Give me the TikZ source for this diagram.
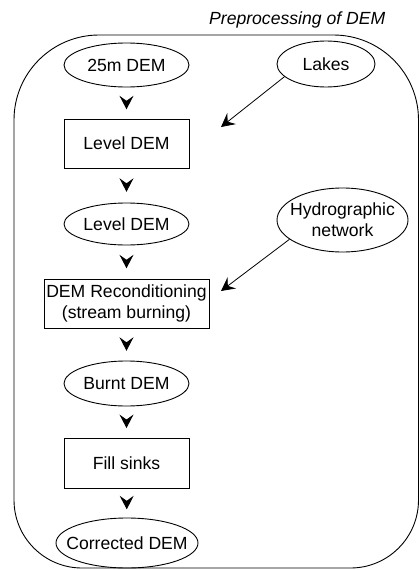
\documentclass[tikz,border=0pt]{standalone}
\usepackage{fontspec}
\setmainfont{Liberation Sans}
\usetikzlibrary{shapes.geometric,arrows.meta}
\begin{document}
\begin{tikzpicture}[x=1pt,y=-1pt,
  font=\fontsize{17.6}{21}\selectfont,
  line width=0.9pt,
  ell/.style={ellipse, draw, inner sep=0pt},
  boxnode/.style={rectangle, draw, inner sep=0pt, align=center},
  tipstyle/.style={-{Stealth[length=13.5pt,width=14pt,inset=5pt]}},
  flow/.style={tipstyle, shorten >=#1pt, shorten <={#1pt+5pt}},
  frame/.style={draw, line width=0.9pt}
]
\useasboundingbox (0,0) rectangle (420,570);

% outer frame
\draw[frame] (14,300) [rounded corners=85pt] |- (216,35) -| (418.5,300)
  [rounded corners=68pt] |- (216,568) -| (14,300);

\node[anchor=base east, font=\fontsize{17.6}{21}\selectfont\itshape] (title) at (389,24) {Preprocessing of DEM};

\node[ell, minimum width=125pt, minimum height=44pt, label=center:25m DEM] (dem25) at (126.5,65) {};
\node[ell, minimum width=98pt, minimum height=46pt, label=center:Lakes] (lakes) at (326,64) {};
\node[boxnode, minimum width=125pt, minimum height=49pt] (lvlbox) at (126.5,143.5) {Level DEM};
\node[ell, minimum width=125pt, minimum height=42pt, label=center:Level DEM] (lvlell) at (126.5,224) {};
\node[ell, minimum width=131pt, minimum height=64pt, label={[align=center]center:Hydrographic\\network}] (hydro) at (342.5,220) {};
\node[boxnode, minimum width=165pt, minimum height=49pt] (recon) at (126.5,303.5) {DEM Reconditioning\\(stream burning)};
\node[ell, minimum width=125pt, minimum height=45pt, label=center:Burnt DEM] (burnt) at (126.5,383.5) {};
\node[boxnode, minimum width=125pt, minimum height=50pt] (fill) at (126.5,463) {Fill sinks};
\node[ell, minimum width=142pt, minimum height=50pt, label=center:Corrected DEM] (corr) at (127,543) {};

\coordinate (lakestip) at (221,127);
\coordinate (hydrotip) at (221,291);

\draw[flow=9.25] (dem25) -- (lvlbox);
\draw[flow=10.75] (lvlbox) -- (lvlell);
\draw[flow=10.25] (lvlell) -- (recon);
\draw[flow=9.75] (recon) -- (burnt);
\draw[flow=9.5] (burnt) -- (fill);
\draw[flow=8.25] (fill) -- (corr);

\draw[tipstyle, line width=0.8pt] (lakes.197) -- (lakestip);
\draw[tipstyle, line width=0.8pt] (hydro.200) -- (hydrotip);
\end{tikzpicture}
\end{document}
